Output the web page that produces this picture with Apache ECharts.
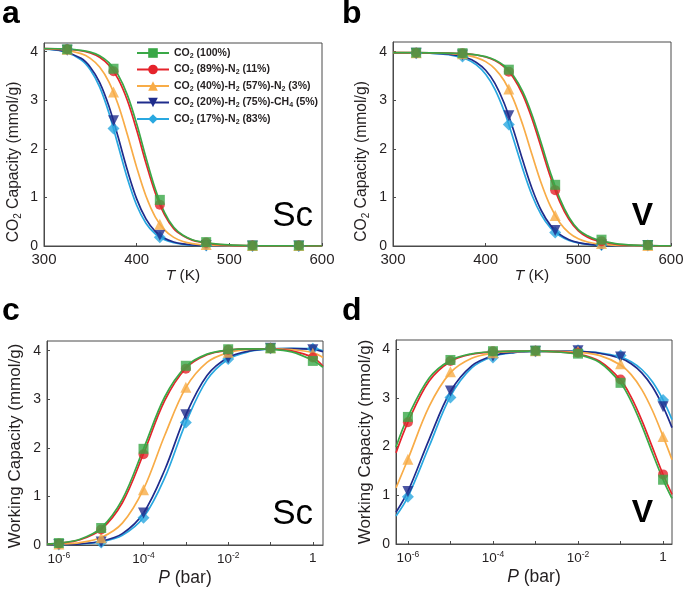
<!DOCTYPE html>
<html><head><meta charset="utf-8">
<script src="https://cdn.jsdelivr.net/npm/echarts@6/dist/echarts.min.js"></script>
<style>html,body{margin:0;padding:0;background:#fff}#c{width:685px;height:589px}</style>
</head><body><div id="c"></div>
<script>
const FONT = '"Liberation Sans", Arial, Helvetica, sans-serif';
const TXT = '#231f20';

// ---- series identity ----
const seriesNames = ['CO2 (100%)', 'CO2 (89%)-N2 (11%)', 'CO2 (40%)-H2 (57%)-N2 (3%)', 'CO2 (20%)-H2 (75%)-CH4 (5%)', 'CO2 (17%)-N2 (83%)'];
const seriesColors = ['#3aa847', '#e5232b', '#f8ac47', '#1f2c8c', '#29a8e0'];
const seriesSymbols = ['rect', 'circle', 'triangle', 'triangle', 'diamond'];
const seriesRotate = [0, 0, 0, 180, 0];
const seriesSymbolSize = [10, 10, 11, 11, 12];

// ---- ticks ----
const tTicks = [300, 400, 500, 600];
const capTicks = [0, 1, 2, 3, 4];
const logPLabelTicks = [-6, -4, -2, 0];
const logPTicks = [-6, -5, -4, -3, -2, -1, 0];

// ---- panel a (Sc, temperature) ----
const tMarkers = [325, 375, 425, 475, 525, 575];
const aMark100 = [4.05, 3.65, 0.95, 0.08, 0.01, 0.01];
const aMark89  = [4.05, 3.60, 0.85, 0.07, 0.01, 0.01];
const aMark40  = [4.05, 3.17, 0.45, 0.03, 0.01, 0.01];
const aMark20  = [4.03, 2.58, 0.22, 0.01, 0.00, 0.00];
const aMark17  = [4.05, 2.42, 0.18, 0.01, 0.00, 0.00];
const tCurveA = [300, 320, 340, 350, 360, 370, 380, 390, 400, 410, 420, 430, 440, 450, 460, 470, 480, 500, 520, 550, 600];
const aCurve100 = [4.067, 4.060, 4.030, 3.992, 3.917, 3.775, 3.523, 3.107, 2.517, 1.825, 1.179, 0.692, 0.385, 0.22, 0.13, 0.085, 0.055, 0.022, 0.009, 0.003, 0];
const aCurve89  = [4.067, 4.057, 4.020, 3.973, 3.885, 3.722, 3.440, 2.995, 2.387, 1.709, 1.097, 0.645, 0.357, 0.21, 0.12, 0.075, 0.045, 0.018, 0.007, 0.002, 0];
const aCurve40  = [4.062, 4.041, 3.962, 3.864, 3.686, 3.382, 2.913, 2.292, 1.619, 1.029, 0.601, 0.332, 0.177, 0.093, 0.048, 0.025, 0.013, 0.003, 0.001, 0, 0];
const aCurve20  = [4.056, 4.016, 3.864, 3.682, 3.369, 2.882, 2.243, 1.558, 0.971, 0.557, 0.302, 0.158, 0.082, 0.042, 0.021, 0.011, 0.005, 0.001, 0, 0, 0];
const aCurve17  = [4.054, 4.009, 3.836, 3.629, 3.276, 2.743, 2.070, 1.390, 0.839, 0.469, 0.249, 0.129, 0.066, 0.033, 0.017, 0.009, 0.004, 0.001, 0, 0, 0];

// ---- panel b (V, temperature) ----
const bMark100 = [3.98, 3.97, 3.63, 1.26, 0.13, 0.02];
const bMark89  = [3.98, 3.97, 3.59, 1.15, 0.10, 0.02];
const bMark40  = [3.98, 3.96, 3.23, 0.63, 0.05, 0.01];
const bMark20  = [3.97, 3.93, 2.68, 0.32, 0.02, 0.01];
const bMark17  = [3.97, 3.90, 2.50, 0.28, 0.02, 0.01];
const tCurveB = [300, 340, 360, 380, 390, 400, 410, 420, 430, 440, 450, 460, 470, 480, 490, 500, 510, 520, 540, 560, 600];
const bCurve100 = [3.980, 3.978, 3.973, 3.956, 3.936, 3.899, 3.831, 3.711, 3.506, 3.177, 2.703, 2.114, 1.503, 0.975, 0.589, 0.339, 0.21, 0.13, 0.05, 0.02, 0.003];
const bCurve89  = [3.980, 3.978, 3.973, 3.954, 3.932, 3.891, 3.817, 3.687, 3.465, 3.115, 2.620, 2.021, 1.416, 0.908, 0.544, 0.311, 0.18, 0.11, 0.04, 0.015, 0.002];
const bCurve40  = [3.980, 3.975, 3.964, 3.926, 3.879, 3.796, 3.648, 3.402, 3.020, 2.496, 1.884, 1.292, 0.814, 0.481, 0.272, 0.150, 0.082, 0.044, 0.013, 0.004, 0];
const bCurve20  = [3.979, 3.971, 3.948, 3.870, 3.779, 3.618, 3.349, 2.938, 2.387, 1.764, 1.183, 0.731, 0.425, 0.238, 0.130, 0.070, 0.038, 0.020, 0.006, 0.002, 0];
const bCurve17  = [3.979, 3.968, 3.939, 3.841, 3.728, 3.536, 3.226, 2.773, 2.199, 1.588, 1.046, 0.640, 0.372, 0.209, 0.115, 0.063, 0.034, 0.018, 0.005, 0.002, 0];

// ---- panel c (Sc, pressure) ----
const pMarkers = [1e-6, 1e-5, 1e-4, 1e-3, 1e-2, 1e-1, 1];
const cMark100 = [0.04, 0.35, 1.98, 3.69, 4.03, 4.05, 3.79];
const cMark89  = [0.03, 0.32, 1.87, 3.63, 4.02, 4.05, 3.86];
const cMark40  = [0.02, 0.15, 1.14, 3.25, 3.97, 4.06, 3.95];
const cMark20  = [0.01, 0.06, 0.66, 2.68, 3.85, 4.05, 4.02];
const cMark17  = [0.01, 0.05, 0.56, 2.52, 3.83, 4.05, 4.04];
const logPCurveC = [-6.28, -6, -5.5, -5, -4.5, -4, -3.5, -3, -2.5, -2, -1.5, -1, -0.5, 0, 0.24];
const cCurve100 = [0.020, 0.038, 0.119, 0.353, 0.940, 1.980, 3.047, 3.674, 3.929, 4.015, 4.038, 4.030, 3.977, 3.800, 3.660];
const cCurve89  = [0.018, 0.035, 0.108, 0.322, 0.870, 1.880, 2.970, 3.638, 3.916, 4.011, 4.039, 4.035, 3.995, 3.860, 3.680];
const cCurve40  = [0.008, 0.016, 0.050, 0.154, 0.451, 1.150, 2.255, 3.240, 3.759, 3.960, 4.025, 4.040, 4.025, 3.960, 3.860];
const cCurve20  = [0.004, 0.008, 0.025, 0.077, 0.235, 0.660, 1.544, 2.679, 3.491, 3.861, 3.995, 4.039, 4.043, 4.028, 3.980];
const cCurve17  = [0.004, 0.007, 0.021, 0.065, 0.199, 0.569, 1.381, 2.516, 3.400, 3.825, 3.983, 4.035, 4.047, 4.042, 4.000];

// ---- panel d (V, pressure) ----
const dMark100 = [2.61, 3.78, 3.96, 3.97, 3.91, 3.31, 1.32];
const dMark89  = [2.50, 3.76, 3.96, 3.97, 3.93, 3.38, 1.43];
const dMark40  = [1.74, 3.54, 3.93, 3.97, 3.96, 3.70, 2.21];
const dMark20  = [1.08, 3.14, 3.86, 3.96, 3.97, 3.84, 2.82];
const dMark17  = [0.97, 3.01, 3.83, 3.96, 3.98, 3.87, 2.96];
const logPCurveD = [-6.28, -6, -5.5, -5, -4.5, -4, -3.5, -3, -2.5, -2, -1.5, -1, -0.75, -0.5, -0.25, 0, 0.21];
const dCurve100 = [1.992, 2.609, 3.408, 3.773, 3.906, 3.948, 3.961, 3.960, 3.944, 3.892, 3.734, 3.308, 2.929, 2.432, 1.869, 1.323, 0.935];
const dCurve89  = [1.872, 2.500, 3.347, 3.749, 3.898, 3.946, 3.960, 3.961, 3.946, 3.901, 3.758, 3.370, 3.016, 2.540, 1.984, 1.428, 1.021];
const dCurve40  = [1.153, 1.740, 2.825, 3.519, 3.815, 3.920, 3.953, 3.962, 3.958, 3.937, 3.873, 3.677, 3.478, 3.172, 2.742, 2.210, 1.733];
const dCurve20  = [0.651, 1.080, 2.150, 3.132, 3.660, 3.867, 3.937, 3.957, 3.962, 3.953, 3.918, 3.814, 3.701, 3.516, 3.229, 2.820, 2.389];
const dCurve17  = [0.576, 0.970, 2.007, 3.032, 3.616, 3.851, 3.932, 3.956, 3.962, 3.955, 3.927, 3.839, 3.743, 3.584, 3.331, 2.960, 2.556];

// ---- build ----
const logPMarkers = pMarkers.map(p => Math.log10(p));
const panels = [
  {curveX: tCurveA, curves: [aCurve100, aCurve89, aCurve40, aCurve20, aCurve17], markX: tMarkers, marks: [aMark100, aMark89, aMark40, aMark20, aMark17]},
  {curveX: tCurveB, curves: [bCurve100, bCurve89, bCurve40, bCurve20, bCurve17], markX: tMarkers, marks: [bMark100, bMark89, bMark40, bMark20, bMark17]},
  {curveX: logPCurveC, curves: [cCurve100, cCurve89, cCurve40, cCurve20, cCurve17], markX: logPMarkers, marks: [cMark100, cMark89, cMark40, cMark20, cMark17]},
  {curveX: logPCurveD, curves: [dCurve100, dCurve89, dCurve40, dCurve20, dCurve17], markX: logPMarkers, marks: [dMark100, dMark89, dMark40, dMark20, dMark17]}
];
const pairs = (xs, ys) => xs.map((x, i) => [x, ys[i]]);

const series = [];
panels.forEach((pn, p) => {
  for (let i = 4; i >= 0; i--) {
    series.push({
      type: 'line', name: seriesNames[i], xAxisIndex: p, yAxisIndex: p,
      data: pairs(pn.curveX, pn.curves[i]), smooth: 0.35,
      showSymbol: false, symbol: seriesSymbols[i], symbolRotate: seriesRotate[i], symbolSize: seriesSymbolSize[i],
      lineStyle: {color: seriesColors[i], width: 1.7}, itemStyle: {color: seriesColors[i]},
      silent: true, animation: false, z: 2
    });
  }
});
panels.forEach((pn, p) => {
  for (let i = 4; i >= 0; i--) {
    series.push({
      type: 'scatter', name: seriesNames[i], xAxisIndex: p, yAxisIndex: p,
      data: pairs(pn.markX, pn.marks[i]),
      symbol: seriesSymbols[i], symbolRotate: seriesRotate[i], symbolSize: seriesSymbolSize[i],
      itemStyle: {color: seriesColors[i]}, silent: true, animation: false, z: 3
    });
  }
});

const grids = [
  {left: 44, top: 43, width: 278, height: 203},
  {left: 393, top: 42, width: 278, height: 204},
  {left: 47, top: 341, width: 276, height: 204},
  {left: 396, top: 340, width: 276, height: 204}
].map(g => Object.assign(g, {show: true, borderColor: '#4a4a4a', borderWidth: 1, backgroundColor: 'transparent', outerBoundsMode: 'none'}));

function nameStyle(size, pad) {
  return {
    fontFamily: FONT, fontSize: size, color: TXT, padding: pad,
    rich: {
      sub: {fontFamily: FONT, fontSize: Math.round(size * 0.65), color: TXT, padding: [Math.round(size * 0.55), 0, 0, 0], verticalAlign: 'bottom'},
      i: {fontFamily: FONT, fontSize: size, color: TXT, fontStyle: 'italic'},
      n: {fontFamily: FONT, fontSize: size, color: TXT}
    }
  };
}
const supRich = {
  n: {fontFamily: FONT, fontSize: 13.5, color: TXT},
  sup: {fontFamily: FONT, fontSize: 8.5, color: TXT, padding: [0, 0, 7, 0], verticalAlign: 'top'}
};
function xAxis(gi, min, max, labels, ticks, name, nameGap, nameSize, isLog) {
  return {
    type: 'value', gridIndex: gi, min: min, max: max,
    splitLine: {show: false},
    axisLine: {show: true, onZero: false, lineStyle: {color: '#4a4a4a', width: 1}},
    axisTick: {show: true, inside: true, length: 3, customValues: ticks, lineStyle: {color: '#4a4a4a'}},
    axisLabel: {
      customValues: labels, margin: 6, fontFamily: FONT, fontSize: 15, color: TXT,
      formatter: isLog ? (v => v === 0 ? '{n|1}' : '{n|10}{sup|' + v + '}') : (v => String(v)),
      rich: isLog ? supRich : undefined
    },
    name: name, nameLocation: 'middle', nameGap: nameGap, nameTextStyle: nameStyle(nameSize, 0)
  };
}
function yAxis(gi, max, name, nameGap, nameSize, pad) {
  return {
    type: 'value', gridIndex: gi, min: 0, max: max,
    splitLine: {show: false},
    axisLine: {show: true, onZero: false, lineStyle: {color: '#4a4a4a', width: 1}},
    axisTick: {show: true, inside: true, length: 3, customValues: capTicks, lineStyle: {color: '#4a4a4a'}},
    axisLabel: {customValues: capTicks, margin: 6, fontFamily: FONT, fontSize: 14, color: TXT},
    name: name, nameLocation: 'middle', nameGap: nameGap, nameRotate: 90, nameTextStyle: nameStyle(nameSize, pad)
  };
}

const co2Name = '{n|CO}{sub|2}{n| Capacity (mmol/g)}';
const wcName = '{n|Working Capacity (mmol/g)}';
const option = {
  animation: false,
  textStyle: {fontFamily: FONT},
  grid: grids,
  xAxis: [
    xAxis(0, 300, 600, tTicks, tTicks, '{i|T}{n| (K)}', 21, 15.5, false),
    xAxis(1, 300, 600, tTicks, tTicks, '{i|T}{n| (K)}', 21, 15.5, false),
    xAxis(2, -6.28, 0.24, logPLabelTicks, logPTicks, '{i|P}{n| (bar)}', 24, 17.5, true),
    xAxis(3, -6.28, 0.21, logPLabelTicks, logPTicks, '{i|P}{n| (bar)}', 24, 17.5, true)
  ],
  yAxis: [
    yAxis(0, 4.18, co2Name, 21, 15.7, [0, 35, 0, 0]),
    yAxis(1, 4.2, co2Name, 22, 15.7, [0, 35, 0, 0]),
    yAxis(2, 4.2, wcName, 23, 17, [0, 6, 0, 0]),
    yAxis(3, 4.19, wcName, 22, 17, [0, 0, 0, 0])
  ],
  legend: {
    data: seriesNames, orient: 'vertical', left: 136, top: 47.5, padding: 0,
    itemWidth: 32, itemHeight: 12, itemGap: 4.5, selectedMode: false,
    formatter: name => name.replace(/([A-Z])(\d)/g, '$1{s|$2}'),
    textStyle: {
      fontFamily: FONT, fontSize: 10.5, fontWeight: 'bold', color: TXT,
      rich: {s: {fontFamily: FONT, fontSize: 7, fontWeight: 'bold', color: TXT, padding: [6, 0, 0, 0], verticalAlign: 'bottom'}}
    }
  },
  graphic: [
    {type: 'text', style: {text: 'a', x: 2, y: 14, textVerticalAlign: 'middle', font: 'bold 32px ' + FONT, fill: '#000'}},
    {type: 'text', style: {text: 'b', x: 342, y: 14, textVerticalAlign: 'middle', font: 'bold 32px ' + FONT, fill: '#000'}},
    {type: 'text', style: {text: 'c', x: 2, y: 311, textVerticalAlign: 'middle', font: 'bold 32px ' + FONT, fill: '#000'}},
    {type: 'text', style: {text: 'd', x: 342, y: 311, textVerticalAlign: 'middle', font: 'bold 32px ' + FONT, fill: '#000'}},
    {type: 'text', style: {text: 'Sc', x: 313, y: 216, textAlign: 'right', textVerticalAlign: 'middle', font: '35px ' + FONT, fill: '#000'}},
    {type: 'text', style: {text: 'V', x: 653, y: 216, textAlign: 'right', textVerticalAlign: 'middle', font: 'bold 32px ' + FONT, fill: '#000'}},
    {type: 'text', style: {text: 'Sc', x: 313, y: 514, textAlign: 'right', textVerticalAlign: 'middle', font: '35px ' + FONT, fill: '#000'}},
    {type: 'text', style: {text: 'V', x: 653, y: 513, textAlign: 'right', textVerticalAlign: 'middle', font: 'bold 32px ' + FONT, fill: '#000'}}
  ],
  series: series
};
const chart = echarts.init(document.getElementById('c'), null, {renderer: 'canvas'});
chart.setOption(option);
</script>
</body></html>
